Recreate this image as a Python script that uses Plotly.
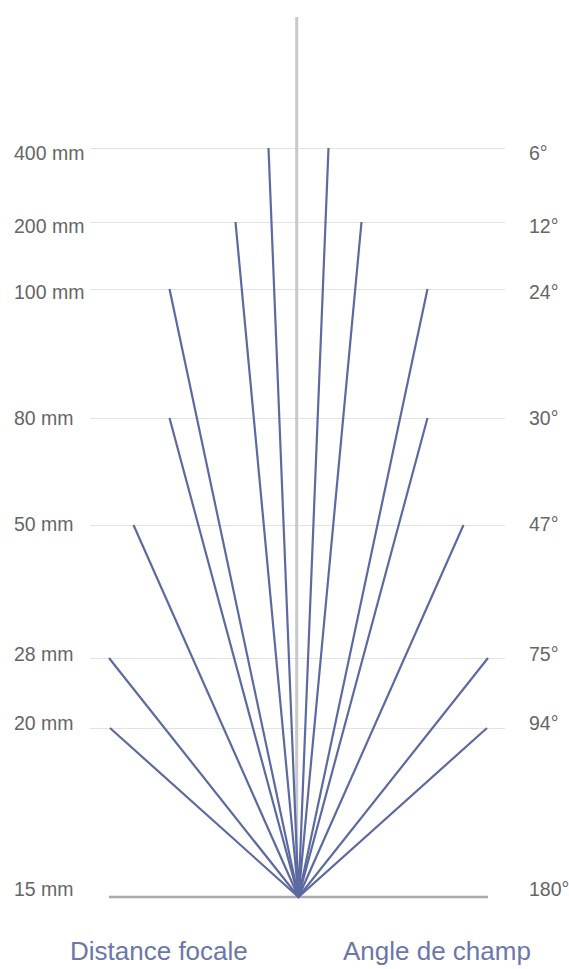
import plotly.graph_objects as go

# Data
focal_labels = ["15 mm", "20 mm", "28 mm", "50 mm", "80 mm", "100 mm", "200 mm", "400 mm"]
angle_labels = ["180°", "94°", "75°", "47°", "30°", "24°", "12°", "6°"]
heights = [0, 169, 239, 372, 479, 608, 675, 749]      # level height above baseline
spreads = [None, 188.5, 189.5, 165, 129, 129, 63, 30]  # half-width of each fan pair
axis_top = 880
fan_center = 1.8

LINE = "#5c6aa0"
FONT = "Liberation Sans, Arial, sans-serif"

fig = go.Figure()

# vertical centre line
fig.add_trace(go.Scatter(x=[0, 0], y=[0, axis_top], mode="lines",
                         line=dict(color="#c9c9c9", width=3), hoverinfo="skip"))

# baseline
valid = [s for s in spreads if s is not None]
fig.add_trace(go.Scatter(x=[fan_center - max(valid), fan_center + max(valid)], y=[0, 0],
                         mode="lines", line=dict(color="#a9a9ae", width=2.5), hoverinfo="skip"))

# fan lines
for h, s in zip(heights, spreads):
    if s is None:
        continue
    fig.add_trace(go.Scatter(x=[fan_center - s, fan_center, fan_center + s], y=[h, 0, h],
                             mode="lines", line=dict(color=LINE, width=2.2), hoverinfo="skip"))

annotations = []
for h, fl, al in zip(heights, focal_labels, angle_labels):
    shift = 7.8 - 0.017 * h
    annotations.append(dict(x=-0.188, xref="paper", y=h, yref="y", text=fl,
                            xanchor="left", yanchor="middle", showarrow=False, yshift=shift,
                            font=dict(family=FONT, size=19.5, color="#666666")))
    annotations.append(dict(x=1.053, xref="paper", y=h, yref="y", text=al,
                            xanchor="left", yanchor="middle", showarrow=False, yshift=shift,
                            font=dict(family=FONT, size=19.5, color="#666666")))

annotations.append(dict(x=(159 - 90) / 415, xref="paper", y=-0.0566, yref="paper",
                        text="Distance focale", xanchor="center", yanchor="middle",
                        showarrow=False, font=dict(family=FONT, size=26, color="#6b77a8")))
annotations.append(dict(x=(437 - 90) / 415, xref="paper", y=-0.0566, yref="paper",
                        text="Angle de champ", xanchor="center", yanchor="middle",
                        showarrow=False, font=dict(family=FONT, size=26, color="#6b77a8")))

fig.update_layout(
    width=569, height=969,
    margin=dict(l=90, r=64, t=17, b=68),
    paper_bgcolor="white", plot_bgcolor="white",
    showlegend=False,
    xaxis=dict(range=[-206.7, 208.3], showgrid=False, zeroline=False, showticklabels=False,
               fixedrange=True),
    yaxis=dict(range=[-4, axis_top], tickvals=heights[1:], showgrid=True,
               gridcolor="#e2e2e2", gridwidth=1, zeroline=False, showticklabels=False,
               fixedrange=True),
    annotations=annotations,
)

fig.write_html("out.html", config={"displayModeBar": False},
               post_script="document.body.style.margin='0px';document.body.style.overflow='hidden';")
